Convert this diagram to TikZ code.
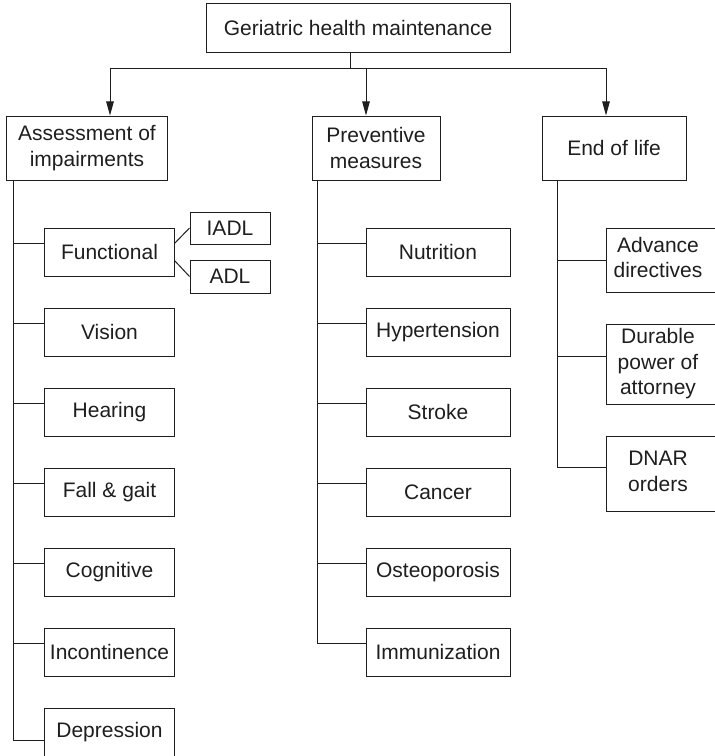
\documentclass[tikz,border=0pt]{standalone}
\usepackage{fontspec}
\setmainfont{Liberation Sans}
\usetikzlibrary{arrows.meta}
\newcommand\diagfont{\fontsize{21bp}{25.5bp}\selectfont}
\newcommand\leftstack[1]{\hspace*{-12bp}\begin{tabular}{@{}c@{}}#1\end{tabular}}
\definecolor{ink}{HTML}{1E1E1E}
\begin{document}
\begin{tikzpicture}[x=1bp,y=-1bp, line width=1bp, color=ink,
  boxnode/.style={draw=ink, line width=1bp, inner sep=0pt, align=center, font=\diagfont, text=ink},
  leftkid/.style={boxnode, minimum width=129bp, minimum height=48bp},
  prevkid/.style={boxnode, minimum width=144bp, minimum height=48bp},
  eolkid/.style={draw=ink, line width=1bp, inner sep=0pt, font=\diagfont, text=ink, minimum width=116bp},
  arr/.style={-{Triangle[length=14bp,width=7.5bp]}}]
\useasboundingbox (0,0) rectangle (715,756);
\clip (0,0) rectangle (715,756);

% top and level 1
\node[boxnode, minimum width=304bp, minimum height=48bp] (top) at (358,28) {Geriatric health maintenance};
\node[boxnode, minimum width=160bp, minimum height=64bp] (assess) at (87,148) {Assessment of\\impairments};
\node[boxnode, minimum width=128bp, minimum height=64bp] (prev) at (376,148) {Preventive\\measures};
\node[boxnode, minimum width=144bp, minimum height=64bp] (eol) at (614,148) {End of life};

% assessment children
\node[leftkid] (func) at (109.5,252) {Functional};
\node[leftkid] (vis)  at (109.5,332) {Vision};
\node[leftkid] (hear) at (109.5,412) {Hearing};
\node[leftkid] (fall) at (109.5,492) {Fall \& gait};
\node[leftkid] (cog)  at (109.5,572) {Cognitive};
\node[leftkid] (inc)  at (109.5,652) {Incontinence};
\node[leftkid] (dep)  at (109.5,732) {Depression};
\node[boxnode, minimum width=80bp, minimum height=32bp] (iadl) at (230,228) {IADL};
\node[boxnode, minimum width=80bp, minimum height=33bp] (adl)  at (230,276.5) {ADL};

% preventive children
\node[prevkid] (nut)  at (438,252) {Nutrition};
\node[prevkid] (hyp)  at (438,332) {Hypertension};
\node[prevkid] (str)  at (438,412) {Stroke};
\node[prevkid] (can)  at (438,492) {Cancer};
\node[prevkid] (ost)  at (438,572) {Osteoporosis};
\node[prevkid] (imm)  at (438,652) {Immunization};

% end of life children
\node[eolkid, minimum height=64bp] (adv) at (664,260) {\leftstack{Advance\\directives}};
\node[eolkid, minimum height=80bp] (dpa) at (664,364) {\leftstack{Durable\\power of\\attorney}};
\node[eolkid, minimum height=75bp] (dnar) at (664,473.5) {\leftstack{DNAR\\orders}};

% top bus
\coordinate (bus) at ([xshift=-8bp,yshift=-16bp]top.south);
\coordinate (aN) at ([xshift=23bp]assess.north);
\coordinate (pN) at ([xshift=-10bp]prev.north);
\coordinate (eN) at ([xshift=-8bp]eol.north);
\draw ([xshift=-8bp]top.south) -- (bus);
\draw[arr] (bus) -| (aN);
\draw[arr] (bus) -| (eN);
\draw[arr] (bus -| pN) -- (pN);

% assessment stem
\coordinate (aS) at ([xshift=7bp]assess.south west);
\foreach \n in {func,vis,hear,fall,cog,inc}{
  \coordinate (j) at ([yshift=-16bp]\n.north west);
  \draw (aS |- j) -- (j);
}
\coordinate (jd) at ([yshift=-33bp]dep.north west);
\draw (aS) |- (jd);

% functional sub-items
\draw ([yshift=8.5bp]func.east) -- (iadl.west);
\draw ([yshift=-8.5bp]func.east) -- (adl.west);

% preventive stem
\coordinate (pS) at ([xshift=6bp]prev.south west);
\foreach \n in {nut,hyp,str,can,ost}{
  \coordinate (j) at ([yshift=-16bp]\n.north west);
  \draw (pS |- j) -- (j);
}
\coordinate (ji) at ([yshift=-16bp]imm.north west);
\draw (pS) |- (ji);

% end of life stem
\coordinate (eS) at ([xshift=16bp]eol.south west);
\coordinate (j1) at ([yshift=-33bp]adv.north west);
\coordinate (j2) at ([yshift=-33bp]dpa.north west);
\coordinate (j3) at ([yshift=-32bp]dnar.north west);
\draw (eS |- j1) -- (j1);
\draw (eS |- j2) -- (j2);
\draw (eS) |- (j3);
\end{tikzpicture}
\end{document}
